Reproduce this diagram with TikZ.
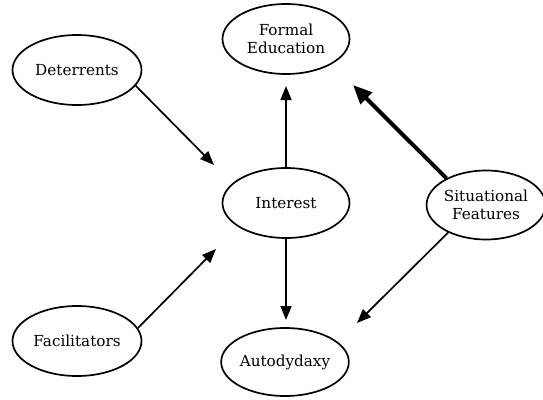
\documentclass[tikz,border=0pt]{standalone}
\usepackage{fontspec}
\setmainfont{DejaVu Serif}
\usetikzlibrary{shapes.geometric,arrows.meta}
\begin{document}
\begin{tikzpicture}[x=1pt,y=-1pt,
  oval/.style={ellipse,draw,line width=1.7pt,inner sep=0pt,minimum width=127pt,minimum height=70pt,
    align=center,font=\fontsize{15.2}{18}\selectfont},
  conn/.style={line width=1.7pt,-{Triangle[length=14pt,width=11pt]}},
  thickconn/.style={line width=4pt,-{Triangle[length=19pt,width=16pt]}}]
\clip (0,0) rectangle (543,399);
\useasboundingbox (0,0) rectangle (543,399);
\node[oval] (fe) at (286,39) {Formal\\Education};
\node[oval,minimum width=129pt] (det) at (77,70) {Deterrents};
\node[oval] (int) at (286,203) {Interest};
\node[oval,minimum width=118pt,minimum height=69pt] (sit) at (486,205) {Situational\\Features};
\node[oval,minimum width=129pt] (fac) at (77,341) {Facilitators};
\node[oval,minimum height=68pt] (aut) at (285,362) {Autodydaxy};
\coordinate (detTip) at (214,165);
\coordinate (facTip) at (216,249);
\coordinate (feTip) at (286,86);
\coordinate (autTip) at (286,320);
\coordinate (sitUpTip) at (353,85);
\coordinate (sitDnTip) at (357,323);
\draw[conn] (det.-15) -- (detTip);
\draw[conn] (fac.12) -- (facTip);
\draw[conn] (int.north) -- (feTip);
\draw[conn] (int.south) -- (autTip);
\draw[thickconn] (sit.146) -- (sitUpTip);
\draw[conn] (sit.216) -- (sitDnTip);
\end{tikzpicture}
\end{document}
